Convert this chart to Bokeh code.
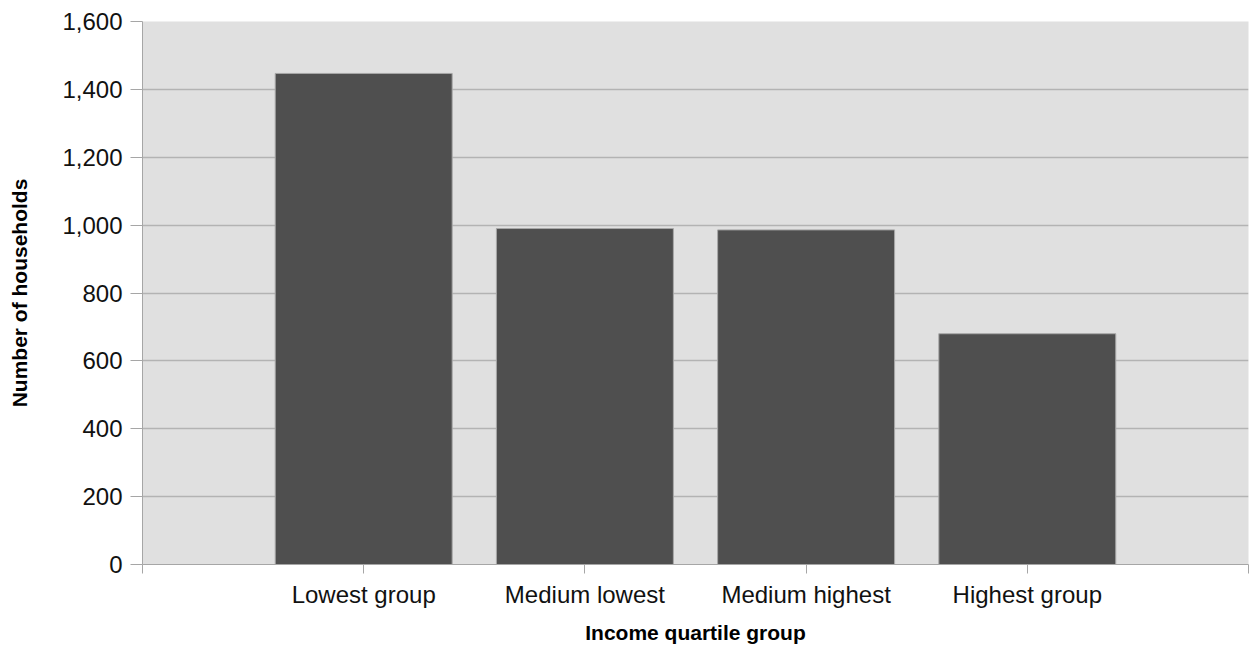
from bokeh.plotting import figure
from bokeh.models import FixedTicker, NumeralTickFormatter, Range1d
from bokeh.embed import file_html
from bokeh.resources import INLINE

categories = ["Lowest group", "Medium lowest", "Medium highest", "Highest group"]
households = [1447, 990, 986, 680]
y_ticks = [0, 200, 400, 600, 800, 1000, 1200, 1400, 1600]

positions = [i + 1 for i in range(len(categories))]

p = figure(width=1250, height=646, output_backend="svg", toolbar_location=None,
           x_range=Range1d(0, len(categories) + 1), y_range=Range1d(0, 1600),
           min_border_left=142, min_border_right=2, min_border_top=21, min_border_bottom=81)
p.background_fill_color = "#e0e0e0"
p.border_fill_color = "white"
p.outline_line_color = None

p.vbar(x=positions, top=households, width=0.8, fill_color="#4f4f4f",
       line_color="#a8a8a8", line_width=1)

FONT = "Liberation Sans"

p.xaxis.ticker = FixedTicker(ticks=list(range(0, len(categories) + 2)))
overrides = {0: "", len(categories) + 1: ""}
for pos, c in zip(positions, categories):
    overrides[pos] = c
p.xaxis.major_label_overrides = overrides
p.xaxis.axis_label = "Income quartile group"
p.xaxis.major_tick_out = 9
p.xaxis.major_tick_in = 0
p.xaxis.minor_tick_line_color = None
p.xaxis.major_label_standoff = 7
p.xaxis.axis_label_standoff = 10

p.yaxis.ticker = FixedTicker(ticks=y_ticks)
p.yaxis.formatter = NumeralTickFormatter(format="0,0")
p.yaxis.axis_label = "Number of households"
p.yaxis.major_tick_out = 12
p.yaxis.major_tick_in = 0
p.yaxis.minor_tick_line_color = None
p.yaxis.major_label_standoff = 8
p.yaxis.axis_label_standoff = 28

for ax in (p.xaxis, p.yaxis):
    ax.axis_line_color = "#a6a6a6"
    ax.major_tick_line_color = "#a6a6a6"
    ax.major_label_text_font = FONT
    ax.major_label_text_font_size = "24px"
    ax.major_label_text_color = "#111111"
    ax.axis_label_text_font = FONT
    ax.axis_label_text_font_size = "21px"
    ax.axis_label_text_font_style = "bold"
    ax.axis_label_text_color = "#000000"

p.xgrid.grid_line_color = None
p.ygrid.grid_line_color = "#b3b3b3"
p.ygrid.grid_line_width = 1.5
p.ygrid.ticker = FixedTicker(ticks=y_ticks)

open("out.html", "w").write(file_html(p, INLINE))
